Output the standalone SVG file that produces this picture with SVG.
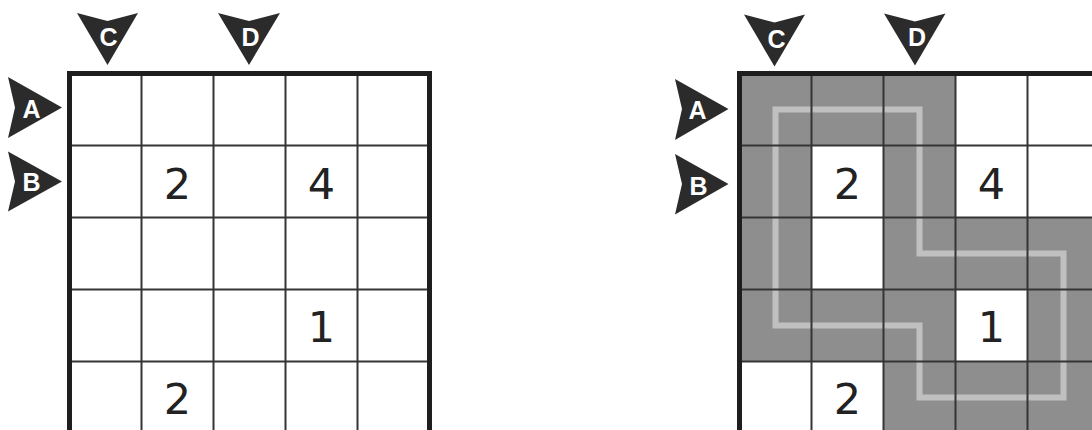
<svg xmlns="http://www.w3.org/2000/svg" width="1092" height="430" viewBox="0 0 1092 430">
  <style>
    .thin { stroke: #353535; stroke-width: 2; fill: none; }
    .thick { stroke: #1e1e1e; stroke-width: 5; fill: none; stroke-linecap: square; }
    .shade { fill: #8f8e8f; }
    .arrow { fill: #2b2b2b; }
    .lbl { font-family: "Liberation Sans", Arial, sans-serif; font-weight: bold; font-size: 25px; fill: #ffffff; text-anchor: middle; }
    .num { font-family: "DejaVu Sans", sans-serif; font-size: 43px; fill: #222222; text-anchor: middle; }
    .loop { stroke: #c1c0c1; stroke-width: 6; fill: none; stroke-linejoin: miter; }
  </style>
  <rect width="1092" height="430" fill="#ffffff"/>

  <!-- LEFT PUZZLE -->
  <g id="left-grid">
    <g id="left-thin-lines">
      <path class="thin" d="M141.5,73.5 V430 M213.5,73.5 V430 M285.5,73.5 V430 M357.5,73.5 V430"/>
      <path class="thin" d="M69.5,145.5 H429.5 M69.5,217.5 H429.5 M69.5,289.5 H429.5 M69.5,361.5 H429.5"/>
    </g>
    <path id="left-border" class="thick" d="M69.5,432 V73.5 H429.5 V432"/>
    <g id="left-numbers">
      <text class="num" x="177.5" y="198.5">2</text>
      <text class="num" x="321.5" y="198.5">4</text>
      <text class="num" x="321.5" y="341.5">1</text>
      <text class="num" x="177.5" y="413.5">2</text>
    </g>
  </g>
  <g id="left-arrow-C">
    <polygon class="arrow" points="77,13 107.5,21 138,13 107.5,65"/>
    <text class="lbl" x="108.5" y="46">C</text>
  </g>
  <g id="left-arrow-D">
    <polygon class="arrow" points="218,13 249,21 280,13 249,65"/>
    <text class="lbl" x="250.5" y="46">D</text>
  </g>
  <g id="left-arrow-A">
    <polygon class="arrow" points="8,77 15,107.5 8,138 62,107.5"/>
    <text class="lbl" x="31.5" y="117.5">A</text>
  </g>
  <g id="left-arrow-B">
    <polygon class="arrow" points="8,151.5 15,181.5 8,211.5 62,181.5"/>
    <text class="lbl" x="31.5" y="191">B</text>
  </g>

  <!-- RIGHT PUZZLE (solution) -->
  <g id="right-grid">
    <g id="right-shading">
      <rect class="shade" x="739.5" y="73.5" width="216" height="72"/>
      <rect class="shade" x="739.5" y="145.5" width="72" height="144"/>
      <rect class="shade" x="883.5" y="145.5" width="72" height="72"/>
      <rect class="shade" x="883.5" y="217.5" width="216" height="72"/>
      <rect class="shade" x="739.5" y="289.5" width="216" height="72"/>
      <rect class="shade" x="1027.5" y="289.5" width="72" height="72"/>
      <rect class="shade" x="883.5" y="361.5" width="216" height="72"/>
    </g>
    <path id="right-loop" class="loop" d="M775.5,109.5 H919.5 V253.5 H1063.5 V397.5 H919.5 V325.5 H775.5 Z"/>
    <g id="right-thin-lines">
      <path class="thin" d="M811.5,73.5 V430 M883.5,73.5 V430 M955.5,73.5 V430 M1027.5,73.5 V430"/>
      <path class="thin" d="M739.5,145.5 H1092 M739.5,217.5 H1092 M739.5,289.5 H1092 M739.5,361.5 H1092"/>
    </g>
    <path id="right-border" class="thick" d="M739.5,432 V73.5 H1099.5"/>
    <g id="right-numbers">
      <text class="num" x="847.5" y="198.5">2</text>
      <text class="num" x="991.5" y="198.5">4</text>
      <text class="num" x="991.5" y="341.5">1</text>
      <text class="num" x="847.5" y="413.5">2</text>
    </g>
  </g>
  <g id="right-arrow-C">
    <polygon class="arrow" points="744,14.5 774.5,22.5 805,14.5 774.5,66.5"/>
    <text class="lbl" x="776.5" y="47.5">C</text>
  </g>
  <g id="right-arrow-D">
    <polygon class="arrow" points="884,13.5 915,21.5 945.5,13.5 915,65.5"/>
    <text class="lbl" x="917" y="46">D</text>
  </g>
  <g id="right-arrow-A">
    <polygon class="arrow" points="675,79 682,109 675,140 728.5,109"/>
    <text class="lbl" x="697.5" y="119">A</text>
  </g>
  <g id="right-arrow-B">
    <polygon class="arrow" points="675,154 682,184 675,214.5 728.5,184"/>
    <text class="lbl" x="698.5" y="195">B</text>
  </g>
</svg>
